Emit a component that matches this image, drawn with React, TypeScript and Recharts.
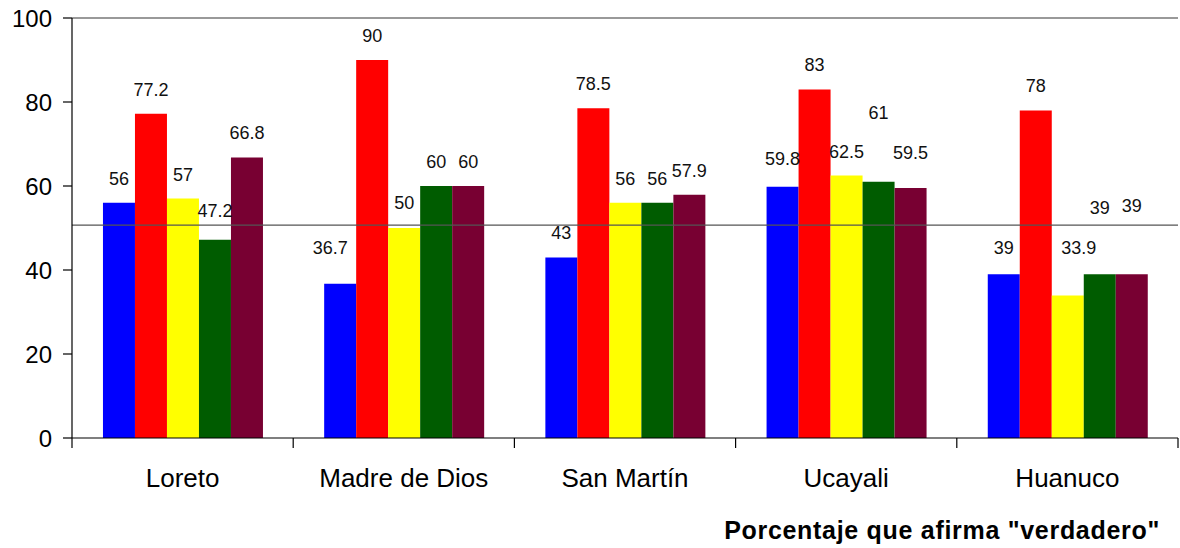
import React from 'react';
import { BarChart, Bar, XAxis, YAxis, ReferenceLine, LabelList } from 'recharts';

const categories = ['Loreto', 'Madre de Dios', 'San Martín', 'Ucayali', 'Huanuco'];
const serieAzul = [56, 36.7, 43, 59.8, 39];
const serieRoja = [77.2, 90, 78.5, 83, 78];
const serieAmarilla = [57, 50, 56, 62.5, 33.9];
const serieVerde = [47.2, 60, 56, 61, 39];
const serieGranate = [66.8, 60, 57.9, 59.5, 39];
const yTicks = [0, 20, 40, 60, 80, 100];
const referencia = 50.7;
const titulo = 'Porcentaje que afirma "verdadero"';

// extra label lift / shift (style only)
const liftAzul = [0, 12, 0, 4, 2];
const shiftAzul = [0, -10, 0, 0, 0];
const liftRoja = [0, 0, 0, 0, 0];
const liftAmarilla = [0, 1, 0, 0, 24];
const shiftAmarilla = [0, 0, 0, 0, 11];
const liftVerde = [5, 0, 0, 45, 42];
const liftGranate = [0, 0, 0, 11, 44];
const zeros = [0, 0, 0, 0, 0];

const data = categories.map((region, i) => ({
  region,
  azul: serieAzul[i],
  roja: serieRoja[i],
  amarilla: serieAmarilla[i],
  verde: serieVerde[i],
  granate: serieGranate[i],
}));

const FONT = '"Liberation Sans", Arial, sans-serif';

const makeLabel = (lift: number[], shift: number[]) => (props: any) => {
  const { x, y, width, value, index } = props;
  const cx = Number(x) + Number(width) / 2 + (shift[index] || 0);
  const cy = Number(y) - 24 - (lift[index] || 0);
  return (
    <text x={cx} y={cy} textAnchor="middle" dominantBaseline="central" fontSize={18} fill="#111" fontFamily={FONT}>
      {value}
    </text>
  );
};

const CatTick = (props: any) => {
  const { x, y, payload, index, width } = props;
  const half =
    payload && typeof payload.offset === 'number' && payload.offset > 0
      ? payload.offset
      : Number(width) / categories.length / 2;
  const isLast = index === categories.length - 1;
  return (
    <g>
      <line x1={x - half} y1={y} x2={x - half} y2={y + 10} stroke="#000" strokeWidth={1.2} />
      {isLast && <line x1={x + half} y1={y} x2={x + half} y2={y + 10} stroke="#000" strokeWidth={1.2} />}
      <text x={x} y={y + 49} textAnchor="middle" fontSize={26} fill="#000" fontFamily={FONT}>
        {payload.value}
      </text>
    </g>
  );
};

export default function App() {
  return (
    <div style={{ position: 'absolute', left: 0, top: 0, width: 1180, height: 548, background: '#fff' }}>
      <BarChart
        width={1180}
        height={548}
        data={data}
        margin={{ top: 18, right: 2, bottom: 0, left: 12 }}
        barCategoryGap="14%"
        barGap={0}
      >
        <XAxis
          dataKey="region"
          interval={0}
          height={110}
          tickLine={false}
          tickSize={0}
          tickMargin={0}
          axisLine={{ stroke: '#000', strokeWidth: 1.2 }}
          tick={<CatTick />}
        />
        <YAxis
          width={60}
          domain={[0, 100]}
          ticks={yTicks}
          interval={0}
          tickSize={9}
          tickMargin={11}
          axisLine={{ stroke: '#000', strokeWidth: 1.2 }}
          tickLine={{ stroke: '#000', strokeWidth: 1.2 }}
          tick={{ fontSize: 24, fill: '#000', fontFamily: FONT }}
        />
        <Bar dataKey="azul" fill="#0000FF" isAnimationActive={false}>
          <LabelList dataKey="azul" content={makeLabel(liftAzul, shiftAzul)} />
        </Bar>
        <Bar dataKey="roja" fill="#FF0000" isAnimationActive={false}>
          <LabelList dataKey="roja" content={makeLabel(liftRoja, zeros)} />
        </Bar>
        <Bar dataKey="amarilla" fill="#FFFF00" isAnimationActive={false}>
          <LabelList dataKey="amarilla" content={makeLabel(liftAmarilla, shiftAmarilla)} />
        </Bar>
        <Bar dataKey="verde" fill="#005C00" isAnimationActive={false}>
          <LabelList dataKey="verde" content={makeLabel(liftVerde, zeros)} />
        </Bar>
        <Bar dataKey="granate" fill="#780032" isAnimationActive={false}>
          <LabelList dataKey="granate" content={makeLabel(liftGranate, zeros)} />
        </Bar>
        <ReferenceLine y={100} stroke="#777" strokeWidth={1.5} />
        <ReferenceLine y={referencia} stroke="#555" strokeWidth={1.2} />
      </BarChart>
      <div
        style={{
          position: 'absolute',
          right: 20,
          top: 516,
          fontFamily: FONT,
          fontWeight: 'bold',
          fontSize: 25,
          color: '#000',
          whiteSpace: 'nowrap',
          letterSpacing: 0.7,
        }}
      >
        {titulo}
      </div>
    </div>
  );
}
